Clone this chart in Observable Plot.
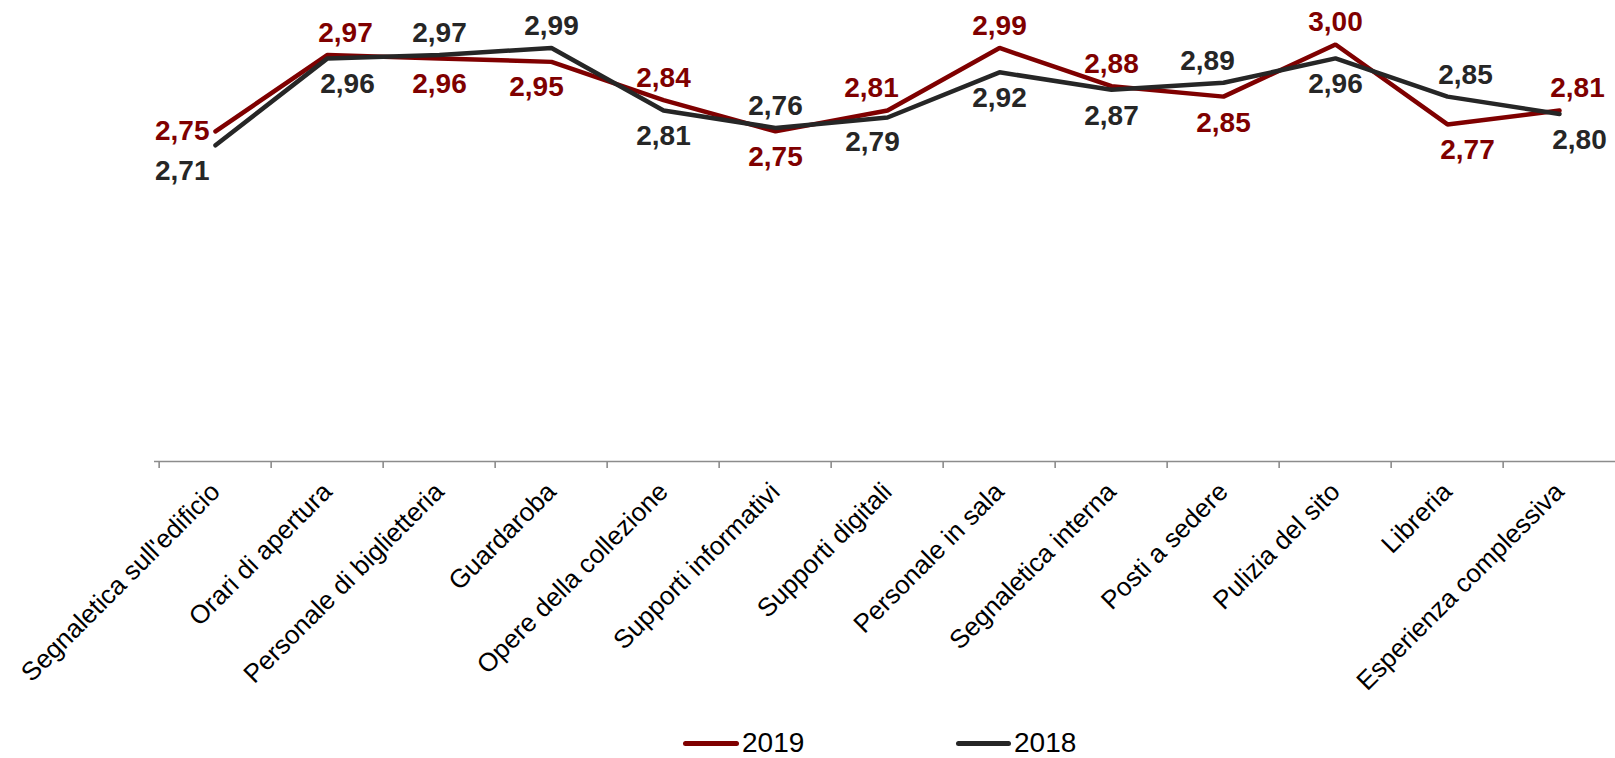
<!DOCTYPE html>
<html>
<head>
<meta charset="utf-8">
<script src="https://cdn.jsdelivr.net/npm/d3@7"></script>
<script src="https://cdn.jsdelivr.net/npm/@observablehq/plot@0.6"></script>
<style>
  html, body { margin: 0; padding: 0; background: #fff; }
  body { font-family: "Liberation Sans", Arial, sans-serif; }
  #wrap { position: relative; width: 1615px; height: 758px; overflow: hidden; }
  #legend { position: absolute; left: 0; top: 726px; width: 1615px; height: 34px; }
  .sw { position: absolute; top: 15px; height: 5px; border-radius: 3px; }
  .lt { position: absolute; top: 0; font-size: 28px; line-height: 34px; color: #000; }
</style>
</head>
<body>
<div id="wrap"><div id="chart"></div>
  <div id="legend">
    <div class="sw" style="left:683px;width:56px;background:#7f0000"></div>
    <div class="lt" style="left:742px">2019</div>
    <div class="sw" style="left:956px;width:55px;background:#262626"></div>
    <div class="lt" style="left:1014px">2018</div>
  </div>
</div>
<script>
const categories = [
  "Segnaletica sull'edificio", "Orari di apertura", "Personale di biglietteria",
  "Guardaroba", "Opere della collezione", "Supporti informativi", "Supporti digitali",
  "Personale in sala", "Segnaletica interna", "Posti a sedere", "Pulizia del sito",
  "Libreria", "Esperienza complessiva"
];
const values2019 = [2.75, 2.97, 2.96, 2.95, 2.84, 2.75, 2.81, 2.99, 2.88, 2.85, 3.00, 2.77, 2.81];
const values2018 = [2.71, 2.96, 2.97, 2.99, 2.81, 2.76, 2.79, 2.92, 2.87, 2.89, 2.96, 2.85, 2.80];
const seriesNames = ["2019", "2018"];
const seriesColors = ["#7f0000", "#262626"];
// label placement keywords (style only)
const labelPos2019 = ["l", "tr", "b", "bl", "t", "b", "tl", "t", "t", "b", "t", "br", "tr"];
const labelPos2018 = ["lb", "br", "t", "t", "b", "t", "bl", "b", "b", "tl", "b", "tr", "br"];

const placements = {
  t:  {dx: 0,   dy: -22, textAnchor: "middle"},
  tl: {dx: -16, dy: -22, textAnchor: "middle"},
  tr: {dx: 18,  dy: -22, textAnchor: "middle"},
  b:  {dx: 0,   dy: 26,  textAnchor: "middle"},
  bl: {dx: -15, dy: 25,  textAnchor: "middle"},
  br: {dx: 20,  dy: 26,  textAnchor: "middle"},
  l:  {dx: -6,  dy: 0,   textAnchor: "end"},
  lb: {dx: -6,  dy: 26,  textAnchor: "end"}
};

const rows = [];
[[values2019, labelPos2019], [values2018, labelPos2018]].forEach(([vals, pos], s) => {
  categories.forEach((c, i) => rows.push({series: seriesNames[s], category: c, value: vals[i], pos: pos[i]}));
});

const fmt = v => v.toFixed(2).replace(".", ",");
const xRange = [154, 1619];
const bw = (xRange[1] - xRange[0]) / categories.length;

const labelMarks = Object.entries(placements).map(([key, p]) =>
  Plot.text(rows.filter(r => r.pos === key), {
    x: "category", y: "value", text: d => fmt(d.value), fill: "series",
    dx: p.dx, dy: p.dy, textAnchor: p.textAnchor, lineAnchor: "middle",
    fontSize: 28, fontWeight: "bold"
  })
);

const chart = Plot.plot({
  width: 1615,
  height: 726,
  marginLeft: 154,
  marginRight: 0,
  marginTop: 44,
  marginBottom: 265,
  style: {fontFamily: "'Liberation Sans', Arial, sans-serif", background: "#fff", overflow: "visible"},
  x: {type: "band", domain: categories, range: xRange, padding: 0, axis: null},
  y: {domain: [1.8, 3.0], range: [461, 44], axis: null},
  color: {domain: seriesNames, range: seriesColors},
  marks: [
    Plot.ruleY([1.8], {stroke: "#8c8c8c", strokeWidth: 1.6}),
    Plot.axisX({tickSize: 7, tickFormat: () => "", dx: -bw / 2, stroke: "#8c8c8c", strokeWidth: 1.6, label: null}),
    Plot.axisX({tickSize: 0, tickPadding: 26, tickRotate: -45, fontSize: 26, fill: "#000", label: null}),
    Plot.line(rows, {x: "category", y: "value", z: "series", stroke: "series", strokeWidth: 4.5, strokeLinejoin: "miter"}),
    ...labelMarks
  ]
});
document.getElementById("chart").appendChild(chart);
</script>
</body>
</html>
